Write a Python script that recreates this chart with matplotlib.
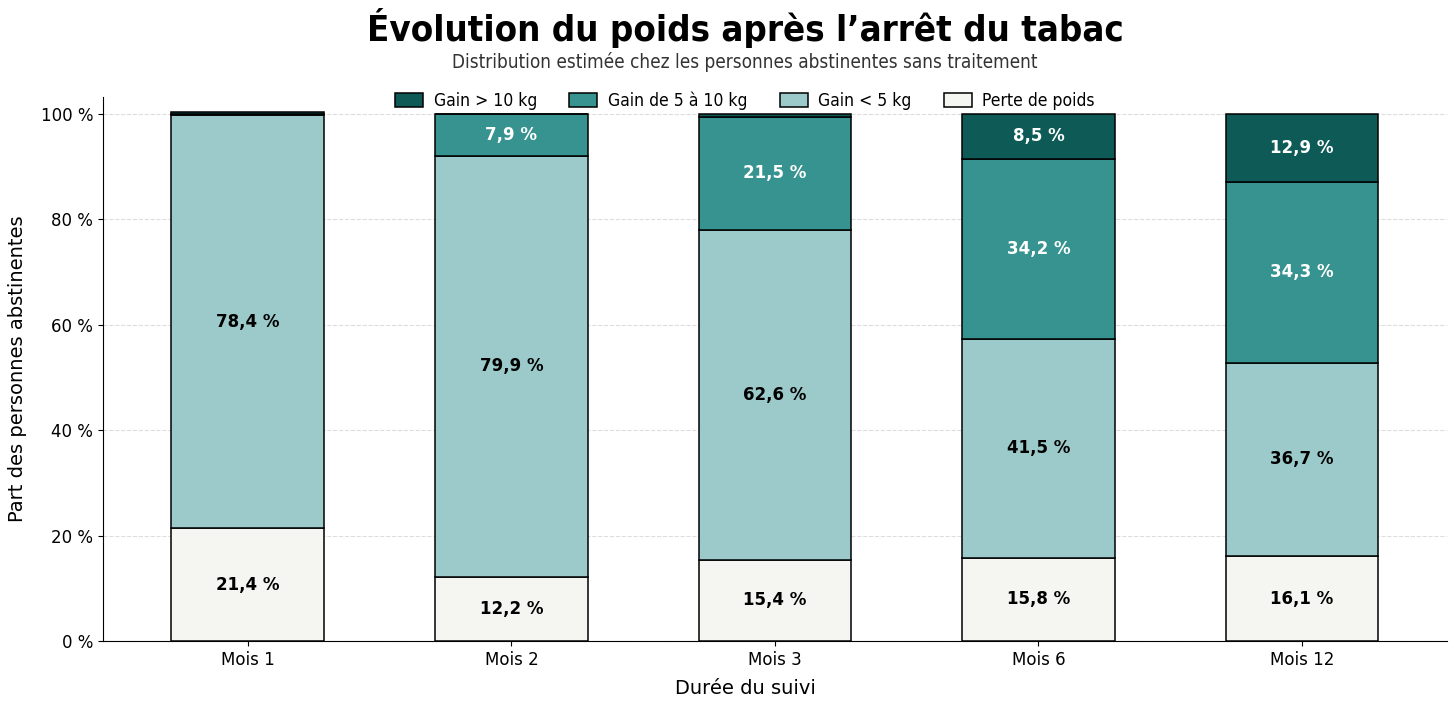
import numpy as np
import matplotlib.pyplot as plt

months = ['Mois 1', 'Mois 2', 'Mois 3', 'Mois 6', 'Mois 12']
perte = [21.4, 12.2, 15.4, 15.8, 16.1]
gain_lt5 = [78.4, 79.9, 62.6, 41.5, 36.7]
gain_5_10 = [0.2, 7.9, 21.5, 34.2, 34.3]
gain_gt10 = [0.3, 0.0, 0.5, 8.5, 12.9]

series = [
    ('Perte de poids', perte, '#f5f6f1', 'black'),
    ('Gain < 5 kg', gain_lt5, '#9ccaca', 'black'),
    ('Gain de 5 à 10 kg', gain_5_10, '#37938f', 'white'),
    ('Gain > 10 kg', gain_gt10, '#0e5a56', 'white'),
]

fig = plt.figure(figsize=(14.56, 7.07), dpi=100)
ax = fig.add_axes([0.0707, 0.0934, 0.9231, 0.7694])

x = np.arange(len(months))
bottom = np.zeros(len(months))
handles = []
for name, vals, color, tcolor in series:
    vals = np.array(vals)
    bars = ax.bar(x, vals, width=0.58, bottom=bottom, color=color,
                  edgecolor='black', linewidth=1.1, label=name, zorder=3)
    handles.append(bars)
    for xi, b, v in zip(x, bottom, vals):
        if v >= 5:
            ax.text(xi, b + v / 2, f'{v:.1f}'.replace('.', ',') + ' %',
                    ha='center', va='center', fontsize=12,
                    fontweight='bold', color=tcolor, zorder=4)
    bottom += vals

ax.set_xlim(-0.55, 4.55)
ax.set_ylim(0, 103.2)
ax.set_xticks(x)
ax.set_xticklabels(months, fontsize=12)
ax.set_yticks(range(0, 101, 20))
ax.set_yticklabels([f'{t} %' for t in range(0, 101, 20)], fontsize=12)
ax.yaxis.grid(True, linestyle='--', color='#dddddd', linewidth=0.8, zorder=0)
ax.set_axisbelow(True)
ax.spines['top'].set_visible(False)
ax.spines['right'].set_visible(False)
ax.set_xlabel('Durée du suivi', fontsize=14)
ax.set_ylabel('Part des personnes abstinentes', fontsize=14, labelpad=10)
# everything above and below is centred a bit left of the axes centre
cx = 0.4777
ax.xaxis.set_label_coords(cx, -0.07)

ax.legend(handles[::-1], [s[0] for s in series][::-1], ncol=4,
          loc='center', bbox_to_anchor=(cx, 0.993), frameon=False,
          prop={'stretch': 'condensed', 'size': 12.6},
          handlelength=1.6, handleheight=0.9, handletextpad=0.6,
          columnspacing=1.85)

fig.text(0.5117, 0.96, 'Évolution du poids après l’arrêt du tabac',
         ha='center', va='center', fontsize=26.2, fontweight='bold',
         fontstretch='condensed')
fig.text(0.5117, 0.912, 'Distribution estimée chez les personnes abstinentes sans traitement',
         ha='center', va='center', fontsize=13.6, color='#333333',
         fontstretch='condensed')

fig.savefig('out.png', dpi=100)
